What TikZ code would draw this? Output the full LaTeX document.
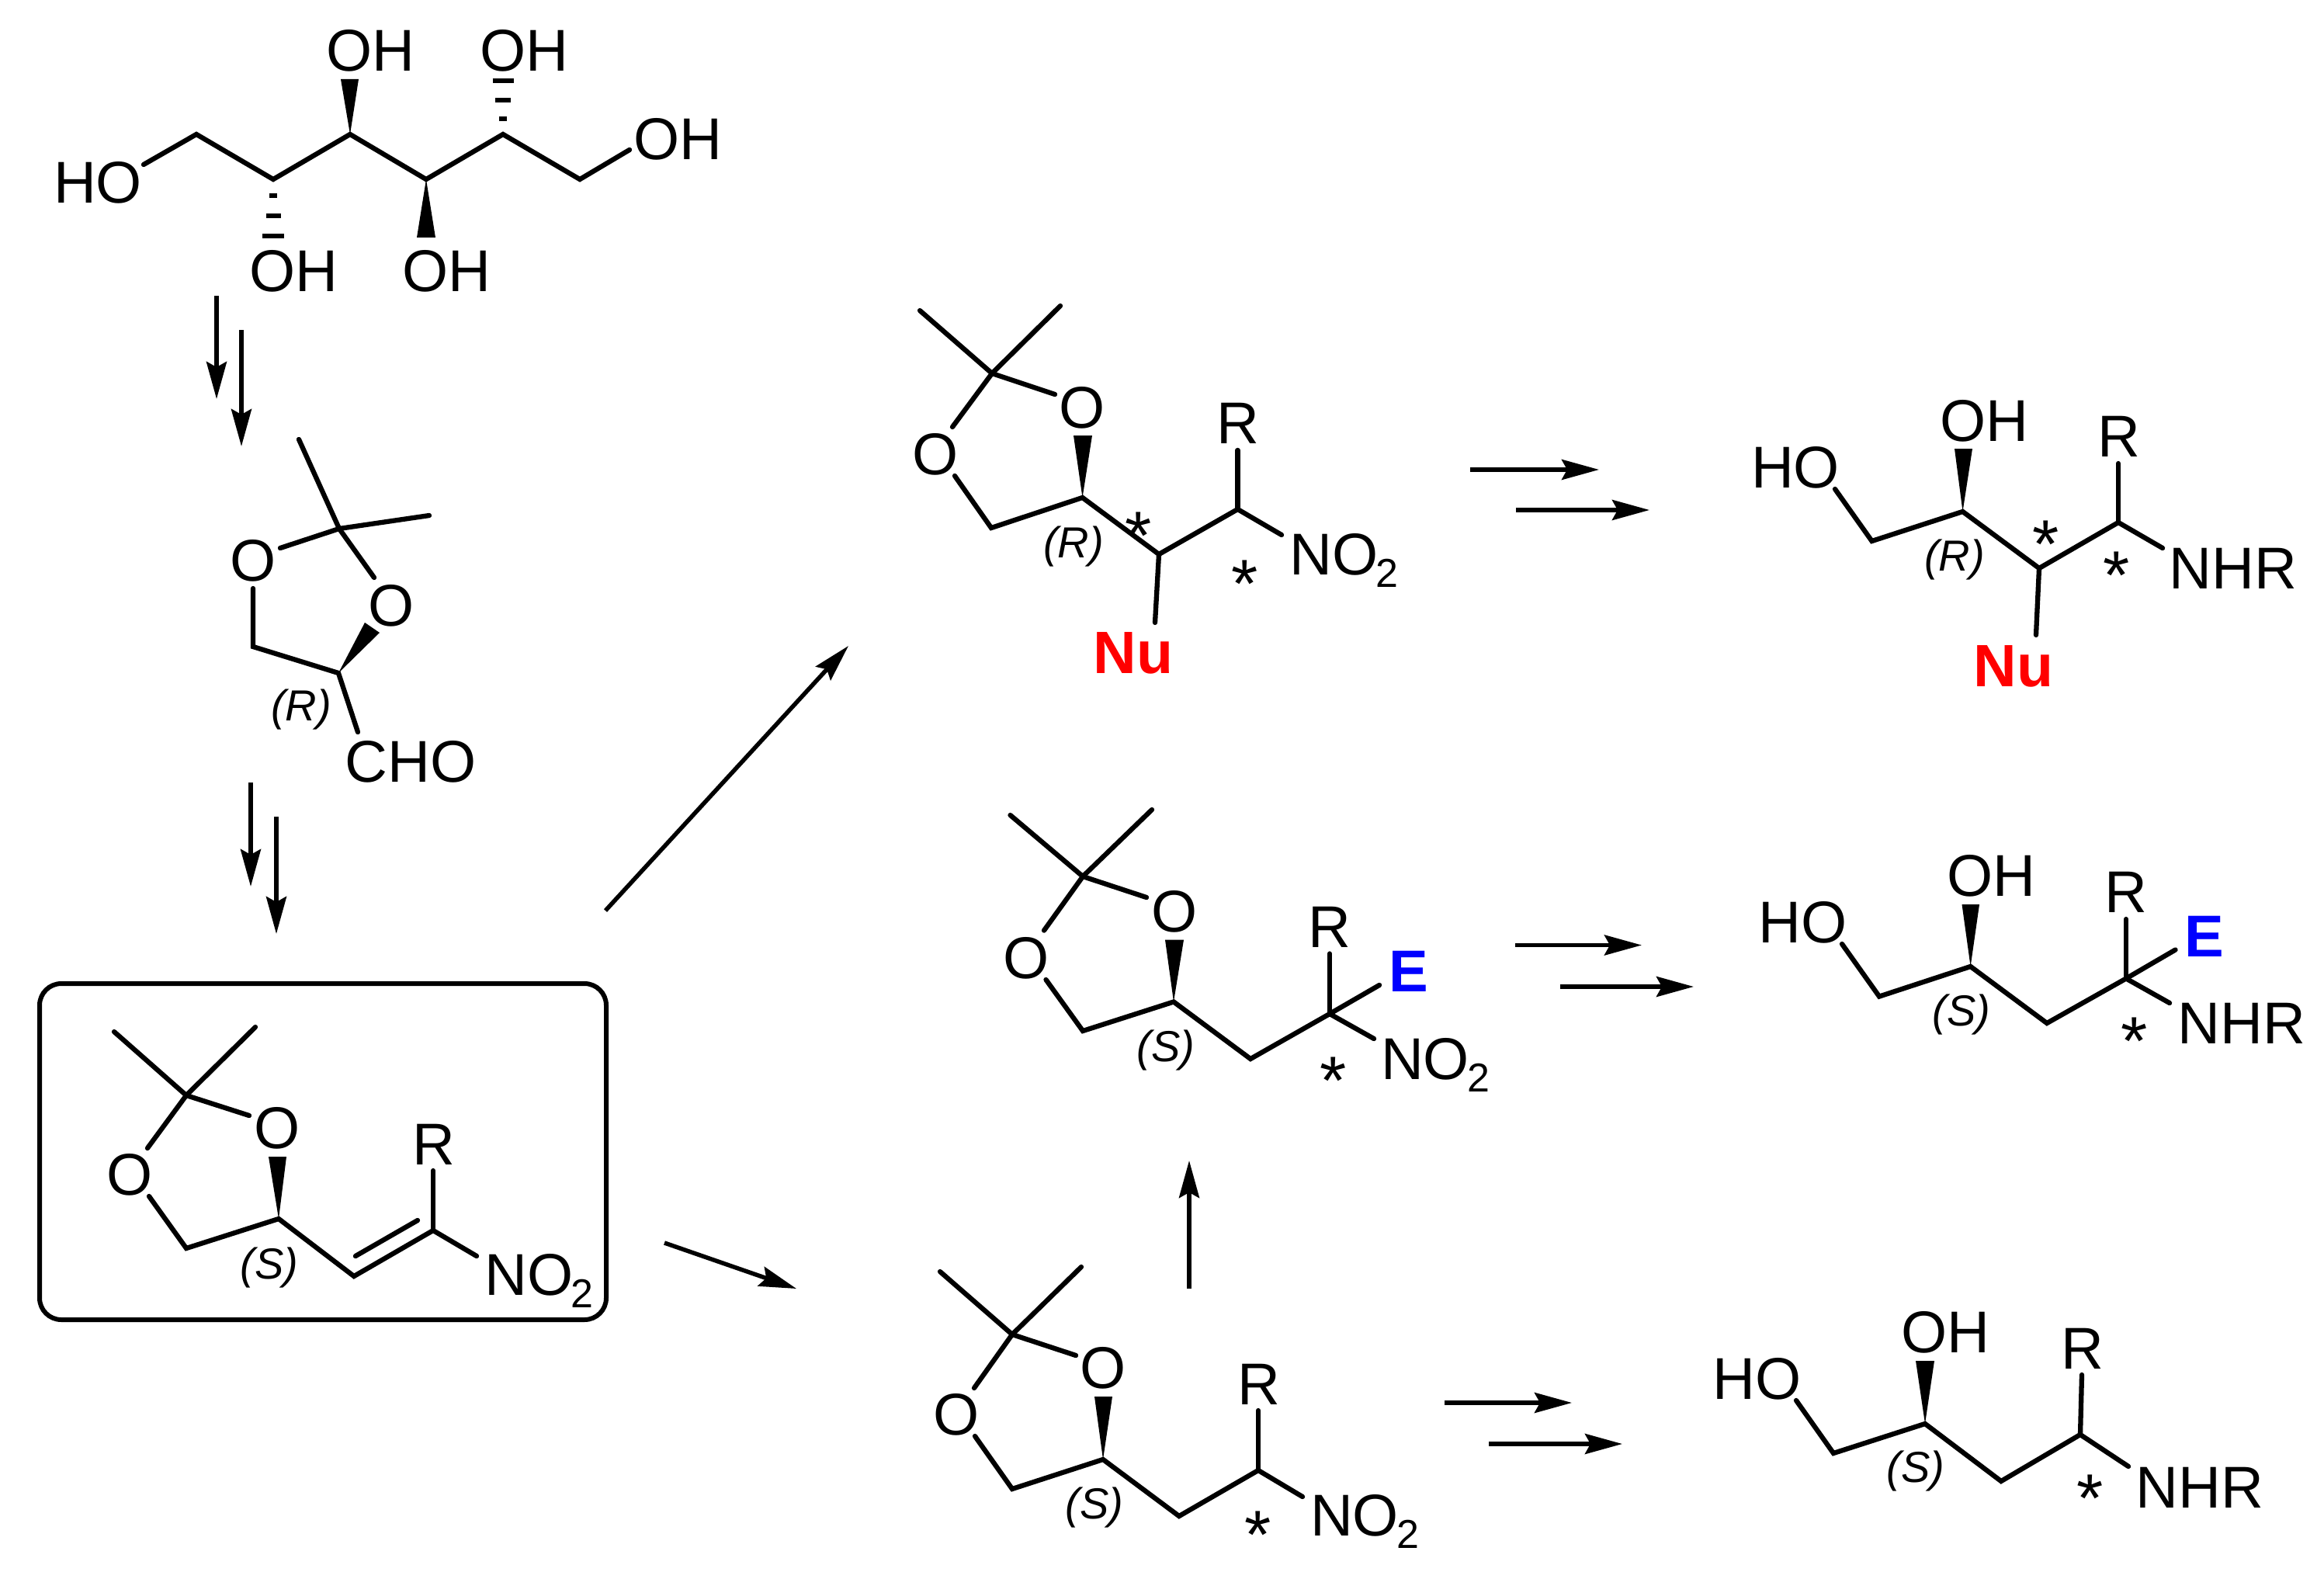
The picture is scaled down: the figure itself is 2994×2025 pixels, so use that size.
\documentclass[tikz,border=0pt]{standalone}
\usepackage{fontspec}
\setmainfont{Liberation Sans}
\usetikzlibrary{arrows.meta}
\definecolor{nured}{RGB}{255,0,0}
\definecolor{eblue}{RGB}{0,0,255}
\newcommand{\nitro}{NO\kern-3pt\raisebox{-16pt}{\fontsize{52}{52}\selectfont 2}}
\tikzset{
  bond/.style={line width=6.3pt,line cap=round,line join=miter,black},
  wedgebond/.style={fill=black,draw=none},
  hashbond/.style={line width=5.5pt,black},
  rxn/.style={line width=5.5pt,black,-{Stealth[length=48pt,width=26pt,inset=7pt]}},
  lab/.style={inner sep=0pt,outer sep=0pt,yshift=-1.5pt,font=\fontsize{76}{76}\selectfont},
  nitrolab/.style={inner sep=0pt,outer sep=0pt,xshift=-5.5pt,anchor=base west,font=\fontsize{76}{76}\selectfont},
  cfg/.style={inner sep=0pt,outer sep=0pt,font=\fontsize{56}{56}\selectfont\itshape},
  starlab/.style={inner sep=0pt,outer sep=0pt,anchor=north,font=\fontsize{88}{88}\selectfont},
  nulab/.style={inner sep=0pt,outer sep=0pt,yshift=-1pt,text=nured,font=\fontsize{77}{77}\selectfont\bfseries},
  elab/.style={inner sep=0pt,outer sep=0pt,yshift=-1pt,text=eblue,font=\fontsize{76}{76}\selectfont\bfseries},
  framebox/.style={line width=6pt,rounded corners=28pt,black}
}
\begin{document}
\begin{tikzpicture}[x=1pt,y=-1pt]
\path[use as bounding box,fill=white] (0,0) rectangle (2994,2025);

% --- sugar ---
\draw[bond] (185,212) -- (253,173) -- (352,231) -- (451,173) -- (549,231) -- (648,173) -- (747,231) -- (811,193);
\fill[wedgebond] (451,173) -- (439,102) -- (462,102) -- cycle;
\fill[wedgebond] (549,231) -- (537,306) -- (561,306) -- cycle;
\draw[hashbond] (643,153) -- (653,153) (638,129) -- (658,129) (634.5,104) -- (661.5,104);
\draw[hashbond] (347,252) -- (357,252) (342.5,278) -- (361.5,278) (338,304) -- (366,304);
\node[lab] (s1) at (126,234) {HO};
\node[lab] (s2) at (477,64) {OH};
\node[lab] (s3) at (675,64) {OH};
\node[lab] (s4) at (873,178) {OH};
\node[lab] (s5) at (378,348) {OH};
\node[lab] (s6) at (575,348) {OH};

% --- first arrows ---
\coordinate (a1s) at (279,381); \coordinate (a1e) at (279,514);
\coordinate (a2s) at (311,425); \coordinate (a2e) at (311,575);
\draw[rxn] (a1s) -- (a1e);
\draw[rxn] (a2s) -- (a2e);

% --- aldehyde ---
\draw[bond] (385,566) -- (437,681) -- (482,744);
\draw[bond] (553,664) -- (437,681) -- (361,706);
\draw[bond] (326,758) -- (326,833) -- (436,867) -- (461,943);
\fill[wedgebond] (436,867) -- (470,802) -- (489,815) -- cycle;
\node[lab] (ald1) at (326,721) {O};
\node[lab] (ald2) at (504,779) {O};
\node[lab] (ald3) at (529,980) {CHO};
\node[cfg] (ald4) at (388,914) {(R)};

\coordinate (a3s) at (323,1008); \coordinate (a3e) at (323,1142);
\coordinate (a4s) at (356,1052); \coordinate (a4e) at (356,1203);
\draw[rxn] (a3s) -- (a3e);
\draw[rxn] (a4s) -- (a4e);

% --- boxed nitroalkene ---
\draw[framebox] (51,1267) rectangle (781,1700);
\draw[bond] (147,1329) -- (240,1411) -- (321,1437);
\draw[bond] (329,1323) -- (240,1411) -- (190,1479);
\draw[bond] (192,1541) -- (240,1608) -- (359,1570) -- (456,1644) -- (558,1585) -- (614,1618);
\draw[bond] (458,1618) -- (538,1572);
\draw[bond] (558,1585) -- (558,1508);
\fill[wedgebond] (359,1570) -- (346,1490) -- (369,1490) -- cycle;
\node[lab] (b1) at (167,1512) {O};
\node[lab] (b2) at (357,1452) {O};
\node[lab] (b3) at (559,1473) {R};
\node[nitrolab] (b4) at (630,1668) {\nitro};
\node[cfg] (b5) at (347,1633) {(S)};

% --- arrows from box ---
\coordinate (a5s) at (780,1173); \coordinate (a5e) at (1093,832);
\coordinate (a6s) at (856,1601); \coordinate (a6e) at (1026,1660);
\coordinate (a7s) at (1532,1660); \coordinate (a7e) at (1532,1495);
\draw[rxn] (a5s) -- (a5e);
\draw[rxn] (a6s) -- (a6e);
\draw[rxn] (a7s) -- (a7e);

% --- Nu intermediate ---
\draw[bond] (1185,400) -- (1278,481) -- (1359,508);
\draw[bond] (1366,394) -- (1278,481) -- (1227,550);
\draw[bond] (1230,613) -- (1277,680) -- (1394.5,641) -- (1493,714) -- (1594.5,656) -- (1651,689);
\draw[bond] (1594.5,656) -- (1594.5,580);
\draw[bond] (1493,714) -- (1488,802);
\fill[wedgebond] (1394.5,641) -- (1383,561) -- (1407,561) -- cycle;
\node[lab] (n1) at (1205,583.5) {O};
\node[lab] (n2) at (1394.5,524) {O};
\node[lab] (n3) at (1595,544) {R};
\node[nitrolab] (n4) at (1667,740) {\nitro};
\node[cfg] (n5) at (1383,704) {(R)};
\node[nulab] (n6) at (1460,840) {Nu};
\node[starlab] (n7) at (1467,660) {*};
\node[starlab] (n8) at (1604,722) {*};

\coordinate (a8s) at (1894,605); \coordinate (a8e) at (2060,605);
\coordinate (a9s) at (1953,657); \coordinate (a9e) at (2125,657);
\draw[rxn] (a8s) -- (a8e);
\draw[rxn] (a9s) -- (a9e);

% --- Nu product ---
\draw[bond] (2364,630) -- (2411.5,697) -- (2528.5,659) -- (2627,732) -- (2729,673) -- (2786,706);
\draw[bond] (2729,673) -- (2729,597);
\draw[bond] (2627,732) -- (2623,818);
\fill[wedgebond] (2528.5,659) -- (2518,578) -- (2541,578) -- cycle;
\node[lab] (p1) at (2313,601) {HO};
\node[lab] (p2) at (2556,541) {OH};
\node[lab] (p3) at (2730,561) {R};
\node[lab] (p4) at (2877,731) {NHR};
\node[nulab] (p5) at (2594,857) {Nu};
\node[cfg] (p6) at (2518,721) {(R)};
\node[starlab] (p7) at (2636,671) {*};
\node[starlab] (p8) at (2727,711) {*};

% --- E intermediate ---
\draw[bond] (1301.5,1050) -- (1395,1129) -- (1477,1156);
\draw[bond] (1484,1043) -- (1395,1129) -- (1345,1198.6);
\draw[bond] (1347.5,1262) -- (1395,1328) -- (1512,1290.5) -- (1611,1364) -- (1713,1306) -- (1770,1338);
\draw[bond] (1713,1306) -- (1713,1228.5);
\draw[bond] (1713,1306) -- (1777,1269);
\fill[wedgebond] (1512,1290.5) -- (1501,1210.6) -- (1525,1210.6) -- cycle;
\node[lab] (e1) at (1322.5,1233) {O};
\node[lab] (e2) at (1513,1173) {O};
\node[lab] (e3) at (1713,1193) {R};
\node[elab] (e4) at (1814.5,1250) {E};
\node[nitrolab] (e5) at (1784.5,1390) {\nitro};
\node[cfg] (e6) at (1502,1353) {(S)};
\node[starlab] (e7) at (1718,1362) {*};

\coordinate (a10s) at (1952,1217.5); \coordinate (a10e) at (2115,1217.5);
\coordinate (a11s) at (2010,1271); \coordinate (a11e) at (2182,1271);
\draw[rxn] (a10s) -- (a10e);
\draw[rxn] (a11s) -- (a11e);

% --- E product ---
\draw[bond] (2373,1216) -- (2421,1283.6) -- (2538.6,1245) -- (2637,1318) -- (2739,1260.5) -- (2795,1292);
\draw[bond] (2739,1260.5) -- (2739,1184);
\draw[bond] (2739,1260.5) -- (2802.5,1223.5);
\fill[wedgebond] (2538.6,1245) -- (2527.5,1165) -- (2550,1165) -- cycle;
\node[lab] (q1) at (2322.5,1187) {HO};
\node[lab] (q2) at (2565,1127) {OH};
\node[lab] (q3) at (2739,1148) {R};
\node[elab] (q4) at (2840,1205) {E};
\node[lab] (q5) at (2888,1317) {NHR};
\node[cfg] (q6) at (2527,1307) {(S)};
\node[starlab] (q7) at (2750,1311) {*};

% --- bottom intermediate ---
\draw[bond] (1211,1638) -- (1304,1719) -- (1386,1746);
\draw[bond] (1393,1632) -- (1304,1719) -- (1255,1788);
\draw[bond] (1256,1850) -- (1304,1918) -- (1421,1880) -- (1519,1953) -- (1621,1894) -- (1678,1928);
\draw[bond] (1621,1894) -- (1621,1817);
\fill[wedgebond] (1421,1880) -- (1410,1799) -- (1433,1799) -- cycle;
\node[lab] (c1) at (1232,1821) {O};
\node[lab] (c2) at (1421,1761) {O};
\node[lab] (c3) at (1622,1782) {R};
\node[nitrolab] (c4) at (1693.5,1978) {\nitro};
\node[cfg] (c5) at (1410,1942) {(S)};
\node[starlab] (c6) at (1621,1947) {*};

\coordinate (a12s) at (1861,1807); \coordinate (a12e) at (2025,1807);
\coordinate (a13s) at (1918,1860); \coordinate (a13e) at (2090,1860);
\draw[rxn] (a12s) -- (a12e);
\draw[rxn] (a13s) -- (a13e);

% --- bottom product ---
\draw[bond] (2314,1804) -- (2362,1872) -- (2480,1834) -- (2578,1908) -- (2680,1848) -- (2742,1889);
\draw[bond] (2680,1848) -- (2682,1771);
\fill[wedgebond] (2480,1834) -- (2468,1753) -- (2492,1753) -- cycle;
\node[lab] (r1) at (2263.5,1775) {HO};
\node[lab] (r2) at (2506,1714.5) {OH};
\node[lab] (r3) at (2683,1736) {R};
\node[lab] (r4) at (2834,1915) {NHR};
\node[cfg] (r5) at (2468,1895) {(S)};
\node[starlab] (r6) at (2693,1900) {*};
\end{tikzpicture}
\end{document}
